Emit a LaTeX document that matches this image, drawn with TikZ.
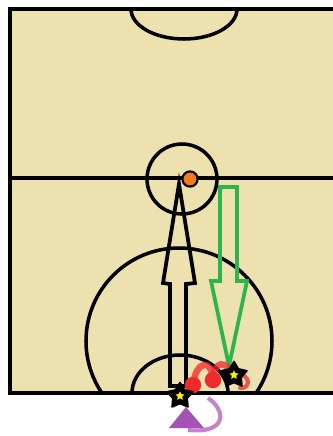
\documentclass[tikz,border=0pt]{standalone}
\usepackage{tikz}
\usetikzlibrary{
  shapes.geometric,
  calc
}
\definecolor{ctCourt}{HTML}{EDE1AF}
\definecolor{ctGreen}{HTML}{2DB44C}
\definecolor{ctOrange}{HTML}{F07A1E}
\definecolor{ctRed}{HTML}{EE2A2A}
\definecolor{ctPurple}{HTML}{A452B4}
\definecolor{ctPurpleL}{HTML}{C483CC}

\begin{document}
\begin{tikzpicture}[
  x=0.03cm, y=-0.03cm,
  courtline/.style={draw=black, line width=3pt},
  borderline/.style={draw=black, line width=3.8pt},
  bigarrow/.style={line width=3.2pt, line join=miter},
  player/.style={star, star points=5, star point ratio=1.8, fill=black,
    draw=black, line width=1.5pt, line join=round,
    minimum size=23, inner sep=0pt},
  playerdot/.style={star, star points=5, star point ratio=2, fill=yellow,
    minimum size=8, inner sep=0pt},
  passdot/.style={circle, fill=ctRed, minimum size=14, inner sep=0pt},
  dribble/.style={draw=ctRed, opacity=0.75, line width=5.5pt, line cap=round}
]
 % Canvas and court surface
 \useasboundingbox (0,0) rectangle (333,436);
 \fill[white] (0,0) rectangle (333,436);
 \fill[ctCourt] (10,9) rectangle (333,393);

 % Court markings
 \begin{scope}
  \clip (10,9) rectangle (333,393);
  \draw[courtline] (131,9) arc[start angle=180, end angle=0, x radius=53, y radius=30];
  \draw[courtline] (10,178) -- (333,178);
  \draw[courtline] (182,179) circle[radius=35];
  \draw[courtline] (179,341) circle[radius=93];
  \draw[courtline] (132,393) arc[start angle=180, end angle=360, x radius=48, y radius=38];
 \end{scope}
 \draw[borderline] (333,9) -- (10,9) -- (10,393) -- (333,393);

 % Ball
 \node[circle, draw=black, line width=1.8pt, fill=ctOrange, minimum size=13,
   inner sep=0pt] (ball) at (190,179) {};

 % Black arrow (up)
 \draw[bigarrow] (179,184) -- (195,283) -- (186,284) -- (186,386) -- (170,386)
   -- (170,284) -- (163,283) -- cycle;

 % Green arrow (down)
 \draw[bigarrow, ctGreen] (220,187) -- (237,187) -- (237,281) -- (247,281)
   -- (229,366) -- (211,281) -- (220,281) -- cycle;

 % Dribble path
 \coordinate (c1) at (180,396);
 \coordinate (c2) at (234,375);
 \node[passdot] (d1) at (193,385) {};
 \node[passdot] (d2) at (213,380) {};
 \draw[dribble] (d1.center) .. controls (196,360) and (212,358) .. (d2.center);
 \draw[dribble] (d2.center) .. controls (214,360) and (226,360) .. (c2);
 \draw[dribble, line width=3.5pt] (242,375) .. controls (251,378) and (249,389) .. (240,388);

 % Players
 \node[player] (p1) at (c1) {};
 \node[playerdot] at (p1) {};
 \node[player] (p2) at (c2) {};
 \node[playerdot] at (p2) {};

 % Purple turn
 \draw[ctPurpleL, line width=3.5pt] (208,398) .. controls (226,410) and (228,434) .. (188,430);
 \fill[ctPurple] (169,428) -- (204,428) -- (186,407) -- cycle;
\end{tikzpicture}
\end{document}
